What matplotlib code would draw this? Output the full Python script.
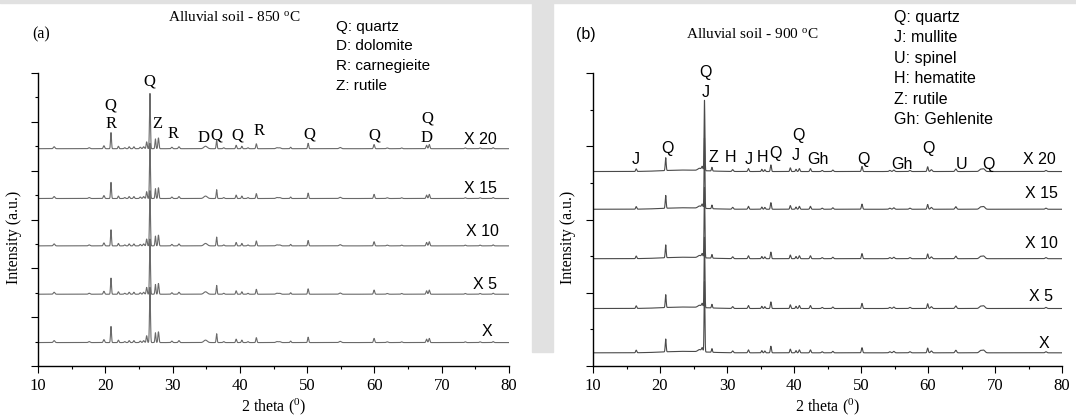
import numpy as np
import matplotlib.pyplot as plt
from matplotlib.patches import Rectangle
from matplotlib.ticker import MultipleLocator

SERIF = ['Liberation Serif', 'DejaVu Serif']
SANS = ['Liberation Sans', 'DejaVu Sans']
plt.rcParams['font.family'] = SERIF
plt.rcParams['mathtext.fontset'] = 'custom'
plt.rcParams['mathtext.rm'] = 'Liberation Serif'

# --- data ---
series_names = ['X', 'X 5', 'X 10', 'X 15', 'X 20']

# (a) 850 C: peak positions (2 theta), heights (a.u.), widths (deg)
peaks_a_pos = [12.4, 17.6, 19.8, 20.85, 21.95, 22.9, 23.55, 24.25, 25.2, 25.7,
               26.15, 26.64, 27.45, 27.9, 29.9, 30.95, 34.9, 36.55, 37.6, 39.45,
               40.3, 41.2, 42.45, 45.5, 45.9, 47.55, 50.15, 54.9, 59.95, 61.9,
               64.05, 67.75, 68.15, 73.5, 75.7, 77.65]
peaks_a_height = [0.04, 0.02, 0.06, 0.33, 0.05, 0.02, 0.04, 0.04, 0.03, 0.04,
                  0.14, 1.13, 0.20, 0.22, 0.03, 0.04, 0.05, 0.18, 0.02, 0.07,
                  0.05, 0.02, 0.10, 0.02, 0.02, 0.03, 0.11, 0.025, 0.085, 0.015,
                  0.015, 0.07, 0.085, 0.015, 0.015, 0.02]
peaks_a_width = [0.12, 0.12, 0.10, 0.07, 0.08, 0.10, 0.09, 0.09, 0.10, 0.10,
                 0.08, 0.07, 0.07, 0.08, 0.10, 0.10, 0.25, 0.07, 0.10, 0.08,
                 0.08, 0.10, 0.08, 0.15, 0.15, 0.08, 0.08, 0.15, 0.09, 0.12,
                 0.10, 0.09, 0.09, 0.10, 0.10, 0.10]
offsets_a = [0.48, 1.47, 2.46, 3.43, 4.45]

# (b) 900 C
peaks_b_pos = [16.45, 20.85, 23.5, 25.9, 26.3, 26.64, 27.75, 30.85, 33.2, 35.2,
               35.65, 36.55, 39.45, 40.3, 40.8, 42.45, 44.2, 45.8, 50.15, 54.3,
               54.9, 57.3, 59.95, 60.5, 64.15, 67.85, 68.3, 77.6]
peaks_b_height = [0.07, 0.35, 0.04, 0.06, 0.10, 1.92, 0.10, 0.05, 0.08, 0.06,
                  0.05, 0.18, 0.10, 0.06, 0.08, 0.08, 0.03, 0.04, 0.14, 0.03,
                  0.04, 0.03, 0.13, 0.05, 0.07, 0.06, 0.07, 0.03]
peaks_b_width = [0.08, 0.07, 3.0, 0.25, 0.10, 0.06, 0.07, 0.10, 0.09, 0.08,
                 0.08, 0.08, 0.08, 0.08, 0.09, 0.09, 0.10, 0.10, 0.09, 0.12,
                 0.12, 0.12, 0.09, 0.12, 0.12, 0.20, 0.20, 0.12]
offsets_b = [0.36, 1.57, 2.93, 4.28, 5.31]

legend_a = ['Q: quartz', 'D: dolomite', 'R: carnegieite', 'Z: rutile']
legend_b = ['Q: quartz', 'J: mullite', 'U: spinel', 'H: hematite',
            'Z: rutile', 'Gh: Gehlenite']

# phase labels: (text, 2 theta, height)
labels_a = [('Q', 20.8, 5.34), ('R', 20.8, 4.96), ('Q', 26.5, 5.83),
            ('Z', 27.7, 4.96), ('R', 30.1, 4.75), ('D', 34.6, 4.67),
            ('Q', 36.5, 4.71), ('Q', 39.6, 4.71), ('R', 42.8, 4.81),
            ('Q', 50.3, 4.75), ('Q', 60.0, 4.71), ('Q', 67.8, 5.06),
            ('D', 67.8, 4.67)]
labels_b = [('J', 16.4, 5.65), ('Q', 21.1, 5.95), ('Q', 26.8, 8.02),
            ('J', 26.8, 7.46), ('Z', 28.0, 5.70), ('H', 30.5, 5.70),
            ('J', 33.3, 5.65), ('H', 35.3, 5.70), ('Q', 37.2, 5.79),
            ('Q', 40.6, 6.30), ('J', 40.3, 5.74), ('Gh', 43.5, 5.65),
            ('Q', 50.3, 5.65), ('Gh', 56.1, 5.51), ('Q', 60.1, 5.93),
            ('U', 65.0, 5.51), ('Q', 69.0, 5.51)]
name_pos_a = [(76.7, 0.71), (76.5, 1.67), (76.0, 2.75), (75.8, 3.63), (75.8, 4.63)]
name_pos_b = [(77.3, 0.62), (76.9, 1.90), (76.9, 3.34), (76.9, 4.71), (76.6, 5.65)]

W, H = 1076, 417


def pattern(tt, pos, height, width):
    y = np.zeros_like(tt)
    for p, h, w in zip(pos, height, width):
        y += h * np.exp(-0.5 * ((tt - p) / w) ** 2)
    return y


def setup_axes(ax, ymax, major, minor, ylab_x):
    ax.set_xlim(10, 80)
    ax.set_ylim(0, ymax)
    for s in ['top', 'right']:
        ax.spines[s].set_visible(False)
    for s in ['left', 'bottom']:
        ax.spines[s].set_linewidth(1.0)
    ax.xaxis.set_major_locator(MultipleLocator(10))
    ax.xaxis.set_minor_locator(MultipleLocator(5))
    ax.yaxis.set_major_locator(MultipleLocator(major))
    ax.yaxis.set_minor_locator(MultipleLocator(minor))
    ax.tick_params(which='major', direction='out', length=5, width=0.8, labelsize=12)
    ax.tick_params(which='minor', direction='out', length=2.5, width=0.8)
    ax.set_yticklabels([])
    ax.set_xlabel(r'2 theta ($\mathregular{^0}$)', fontsize=11.5)
    ax.set_ylabel('Intensity (a.u.)', fontsize=11.5)
    ax.xaxis.set_label_coords(0.5, -0.105)
    ax.yaxis.set_label_coords(ylab_x, 0.44)


fig = plt.figure(figsize=(W / 100, H / 100), dpi=100)
fig.patches.append(Rectangle((532 / W, 1 - 352 / H), 21 / W, 352 / H,
                             transform=fig.transFigure, color='#e1e1e1', zorder=0))
fig.patches.append(Rectangle((0, 1 - 3 / H), 1, 3 / H,
                             transform=fig.transFigure, color='#e1e1e1', zorder=0))

tt = np.arange(10, 80.001, 0.01)

# (a)
ax1 = fig.add_axes([38 / W, 1 - 366 / H, 471 / W, 293 / H])
setup_axes(ax1, 6, 1, 0.5, -0.033)
ya = pattern(tt, peaks_a_pos, peaks_a_height, peaks_a_width)
for off in offsets_a:
    ax1.plot(tt, ya + off, color='#6a6a6a', lw=0.8)
for txt, x, y in labels_a:
    ax1.text(x, y, txt, ha='center', va='center', fontsize=12, clip_on=False)
for name, (x, y) in zip(series_names, name_pos_a):
    ax1.text(x, y, name, ha='center', va='center', fontsize=11.5, family=SANS)

fig.text(41 / W, 1 - 34 / H, '(a)', ha='center', va='center', fontsize=11.5)
fig.text(234 / W, 1 - 17 / H, r'Alluvial soil - 850 $\mathregular{^o}$C',
         ha='center', va='center', fontsize=11)
for i, t in enumerate(legend_a):
    fig.text(336 / W, 1 - (27 + 19.5 * i) / H, t, ha='left', va='center',
             fontsize=11, family=SANS)

# (b)
ax2 = fig.add_axes([593 / W, 1 - 366 / H, 469 / W, 293 / H])
setup_axes(ax2, 8, 2, 1, -0.037)
yb = pattern(tt, peaks_b_pos, peaks_b_height, peaks_b_width)
for off in offsets_b:
    ax2.plot(tt, yb + off, color='#4a4a4a', lw=0.8)
for txt, x, y in labels_b:
    ax2.text(x, y, txt, ha='center', va='center', fontsize=11.5, family=SANS,
             clip_on=False)
for name, (x, y) in zip(series_names, name_pos_b):
    ax2.text(x, y, name, ha='center', va='center', fontsize=11.5, family=SANS)

fig.text(586 / W, 1 - 34 / H, '(b)', ha='center', va='center', fontsize=11.5,
         family=SANS)
fig.text(752 / W, 1 - 34 / H, r'Alluvial soil - 900 $\mathregular{^o}$C',
         ha='center', va='center', fontsize=11)
for i, t in enumerate(legend_b):
    fig.text(894 / W, 1 - (17.5 + 20.4 * i) / H, t, ha='left', va='center',
             fontsize=11.5, family=SANS)

fig.savefig('out.png', dpi=100)
